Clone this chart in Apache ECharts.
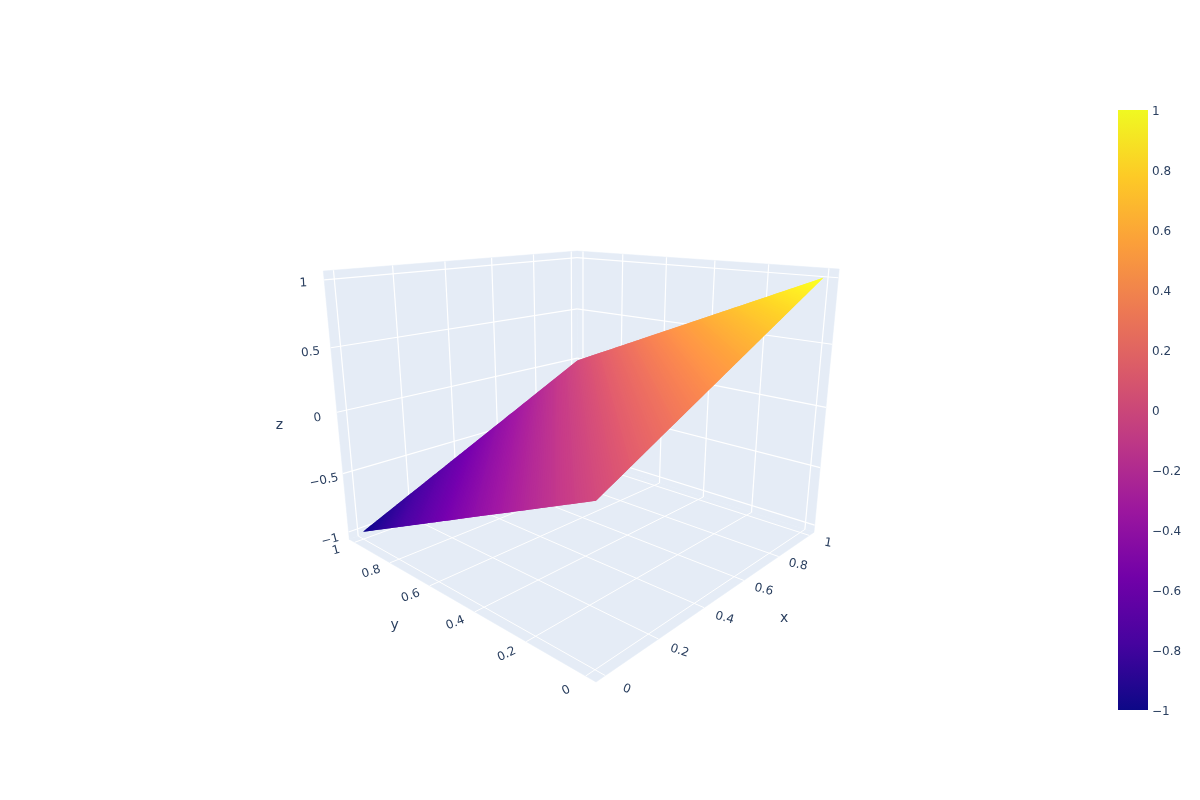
<!DOCTYPE html>
<html>
<head>
    <meta charset="utf-8">
    <title>ECharts</title>
    <script src="https://cdn.jsdelivr.net/npm/echarts@6/dist/echarts.min.js"></script>
    <style>html, body { margin: 0; background: #fff; }</style>
</head>
<body>
<div id="main" style="width: 1200px; height: 800px;"></div>

<script type="text/javascript">
    // surface samples: z[row for x][column for y]
    var xValues = [0, 1];
    var yValues = [0, 1];
    var zValues = [[0, -1], [1, 0]];

    var xTicks = [0, 0.2, 0.4, 0.6, 0.8, 1];
    var yTicks = [0, 0.2, 0.4, 0.6, 0.8, 1];
    var zTicks = [-1, -0.5, 0, 0.5, 1];

    var colorScale = ['#0d0887', '#46039f', '#7201a8', '#9c179e', '#bd3786',
        '#d8576b', '#ed7953', '#fb9f3a', '#fdca26', '#f0f921'];

    // scene settings
    var xRange = [-0.032, 1.032];
    var yRange = [-0.032, 1.032];
    var zRange = [-1.064, 1.064];
    var camX = [577.5, -102.2, -82.6, 596];
    var camY = [85.4, 80.4, -417.7, 682];
    var camW = [0.4417, 0.4137, -0.1418, 1];
    var BANDS = 256;
    var LIGHT = 1.04;
    var TEXT = '#2a3f5f';
    var FONT = '"DejaVu Sans", sans-serif';

    function norm(v, range) {
        return (v - range[0]) / (range[1] - range[0]);
    }
    // box coordinates (0..1 on each side) to scene coordinates
    function project(u, v, w) {
        var d = camW[0] * u + camW[1] * v + camW[2] * w + camW[3];
        return [
            (camX[0] * u + camX[1] * v + camX[2] * w + camX[3]) / d,
            (camY[0] * u + camY[1] * v + camY[2] * w + camY[3]) / d
        ];
    }
    function toLabel(v) {
        return String(+v.toFixed(1)).replace('-', '\u2212');
    }
    function lerp(a, b, t) {
        return a + (b - a) * t;
    }
    // the surface is lit, so it comes out a little brighter than the colour bar
    function litColor(t) {
        var c = echarts.color.parse(echarts.color.lerp(t, colorScale));
        return 'rgb(' + [0, 1, 2].map(function (n) {
            return Math.min(255, Math.round(c[n] * LIGHT));
        }).join(',') + ')';
    }

    var walls = [
        [[0, 0, 0], [1, 0, 0], [1, 1, 0], [0, 1, 0]],
        [[0, 1, 0], [1, 1, 0], [1, 1, 1], [0, 1, 1]],
        [[1, 0, 0], [1, 1, 0], [1, 1, 1], [1, 0, 1]]
    ];

    // [from, to, line width]
    var gridLines = [];
    xTicks.forEach(function (t) {
        var u = norm(t, xRange);
        gridLines.push([[u, 0, 0], [u, 1, 0], 1]);
        gridLines.push([[u, 1, 0], [u, 1, 1], 1.2]);
    });
    yTicks.forEach(function (t) {
        var v = norm(t, yRange);
        gridLines.push([[0, v, 0], [1, v, 0], 1]);
        gridLines.push([[1, v, 0], [1, v, 1], 1.2]);
    });
    zTicks.forEach(function (t) {
        var w = norm(t, zRange);
        gridLines.push([[0, 1, w], [1, 1, w], 1.2]);
        gridLines.push([[1, 0, w], [1, 1, w], 1.2]);
    });

    // [text, u, v, w, rotation in degrees, font size, dy]
    var labels = [];
    xTicks.forEach(function (t) {
        labels.push([toLabel(t), norm(t, xRange), -0.06, 0, lerp(20, 10, t), 12, 1.5]);
    });
    yTicks.forEach(function (t) {
        labels.push([toLabel(t), -0.06, norm(t, yRange), 0, lerp(-27, -15, t), 12, 1.5]);
    });
    zTicks.forEach(function (t) {
        labels.push([toLabel(t), -0.06, 1, norm(t, zRange), lerp(-15, -3, (t + 1) / 2), 12, 1.5]);
    });
    labels.push(['x', 0.5, -0.17, 0, 0, 14, 0]);
    labels.push(['y', -0.17, 0.5, 0, 0, 14, 0]);
    labels.push(['z', -0.17, 1, 0.5, 0, 14, 0]);

    // surface corners in order round the edge, as box coordinates plus z
    var surfaceEdge = [[0, 0], [1, 0], [1, 1], [0, 1]].map(function (c) {
        var z = zValues[c[0]][c[1]];
        return [norm(xValues[c[0]], xRange), norm(yValues[c[1]], yRange), norm(z, zRange), z];
    });

    var bands = [];
    for (var b = 0; b < BANDS; b++) {
        bands.push([b]);
    }

    // keep the part of a polygon on one side of a z level
    function clipZ(poly, level, above) {
        var out = [];
        poly.forEach(function (p, n) {
            var q = poly[(n + 1) % poly.length];
            var pIn = above ? p[3] >= level : p[3] <= level;
            var qIn = above ? q[3] >= level : q[3] <= level;
            if (pIn) {
                out.push(p);
            }
            if (pIn !== qIn) {
                var t = (level - p[3]) / (q[3] - p[3]);
                out.push([lerp(p[0], q[0], t), lerp(p[1], q[1], t), lerp(p[2], q[2], t), level]);
            }
        });
        return out;
    }

    function polyPoints(api, corners) {
        return corners.map(function (c) {
            return api.coord(project(c[0], c[1], c[2]));
        });
    }

    function renderWall(params, api) {
        return {
            type: 'polygon',
            shape: {points: polyPoints(api, walls[params.dataIndex])},
            style: {fill: '#e5ecf6', stroke: '#e5ecf6', lineWidth: 0.5}
        };
    }

    function renderGrid(params, api) {
        var g = gridLines[params.dataIndex];
        var p = polyPoints(api, g);
        return {
            type: 'line',
            shape: {x1: p[0][0], y1: p[0][1], x2: p[1][0], y2: p[1][1]},
            style: {stroke: '#fff', lineWidth: g[2]}
        };
    }

    // each band runs one step past its top so the next band hides the seam
    function renderBand(params, api) {
        var t = api.value(0) / BANDS;
        var step = 2 / BANDS;
        var low = lerp(-1, 1, t);
        var strip = clipZ(clipZ(surfaceEdge, low, true), low + 2 * step, false);
        return {
            type: 'polygon',
            shape: {points: polyPoints(api, strip)},
            style: {fill: litColor(t + 0.5 / BANDS)}
        };
    }

    function renderLabel(params, api) {
        var l = labels[params.dataIndex];
        var p = api.coord(project(l[1], l[2], l[3]));
        return {
            type: 'text',
            x: p[0],
            y: p[1] + l[6],
            rotation: -l[4] * Math.PI / 180,
            style: {
                text: l[0],
                fill: TEXT,
                font: l[5] + 'px ' + FONT,
                align: 'center',
                verticalAlign: 'middle'
            }
        };
    }

    function renderColorBar(params, api) {
        var top = api.coord([0, zTicks[zTicks.length - 1]]);
        var bottom = api.coord([0, zTicks[0]]);
        var size = api.size([1, 0]);
        var stops = colorScale.map(function (c, n) {
            return {offset: n / (colorScale.length - 1), color: c};
        });
        return {
            type: 'rect',
            shape: {x: top[0] - size[0] / 2, y: top[1], width: size[0], height: bottom[1] - top[1]},
            style: {fill: new echarts.graphic.LinearGradient(0, 1, 0, 0, stops)}
        };
    }

    function sceneSeries(data, render) {
        return {
            type: 'custom',
            coordinateSystem: 'cartesian2d',
            xAxisIndex: 0,
            yAxisIndex: 0,
            silent: true,
            animation: false,
            clip: false,
            renderItem: render,
            data: data
        };
    }

    var option = {
        animation: false,
        backgroundColor: '#fff',
        grid: [
            {left: 0, top: 0, width: 1200, height: 800},
            {left: 1118, top: 110, width: 30, height: 600},
            // colour bar labels sit a touch lower than the bar itself
            {left: 1118, top: 111.5, width: 30, height: 600}
        ],
        xAxis: [
            {type: 'value', min: 0, max: 1200, show: false, gridIndex: 0},
            {type: 'category', data: ['color'], show: false, gridIndex: 1},
            {type: 'category', data: ['color'], show: false, gridIndex: 2}
        ],
        yAxis: [
            {type: 'value', min: 0, max: 800, inverse: true, show: false, gridIndex: 0},
            {type: 'value', min: -1, max: 1, show: false, gridIndex: 1},
            {
                type: 'value',
                gridIndex: 2,
                position: 'right',
                min: -1,
                max: 1,
                interval: 0.2,
                axisLine: {show: false},
                axisTick: {show: false},
                splitLine: {show: false},
                axisLabel: {
                    margin: 4,
                    color: TEXT,
                    fontFamily: FONT,
                    fontSize: 12,
                    formatter: toLabel
                }
            }
        ],
        series: [
            sceneSeries(walls.map(function (w, n) { return [n]; }), renderWall),
            sceneSeries(gridLines.map(function (g, n) { return [n]; }), renderGrid),
            sceneSeries(bands, renderBand),
            sceneSeries(labels.map(function (l, n) { return [n]; }), renderLabel),
            {
                type: 'custom',
                coordinateSystem: 'cartesian2d',
                xAxisIndex: 1,
                yAxisIndex: 1,
                silent: true,
                animation: false,
                renderItem: renderColorBar,
                data: [[0, 0]]
            }
        ]
    };

    var myChart = echarts.init(document.getElementById('main'), null, {renderer: 'canvas'});
    myChart.setOption(option);
</script>
</body>
</html>
